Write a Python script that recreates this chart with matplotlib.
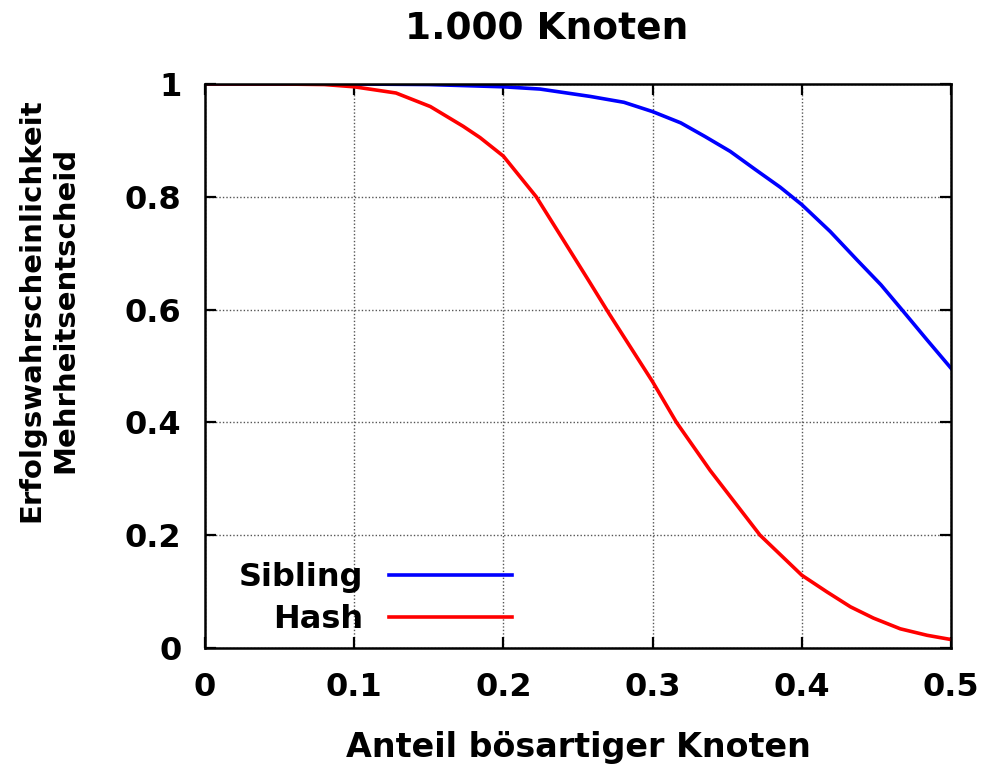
import matplotlib
matplotlib.use('Agg')
import matplotlib.pyplot as plt
from matplotlib.ticker import FixedLocator, FuncFormatter

plt.rcParams['font.family'] = ['DejaVu Sans']
plt.rcParams['font.weight'] = 'bold'

# points
sibling_x = [0.0, 0.05, 0.1, 0.15, 0.2, 0.2245, 0.258, 0.2808, 0.3, 0.3189,
             0.335, 0.352, 0.369, 0.3855, 0.4, 0.419, 0.437, 0.453, 0.467,
             0.484, 0.5]
sibling_y = [1.0, 1.0, 1.0, 0.999, 0.995, 0.991, 0.978, 0.9675, 0.951, 0.931,
             0.907, 0.8805, 0.848, 0.817, 0.786, 0.7385, 0.688, 0.644, 0.6,
             0.546, 0.496]
hash_x = [0.0, 0.05, 0.08, 0.1, 0.128, 0.151, 0.173, 0.1843, 0.2, 0.222,
          0.24, 0.257, 0.271, 0.3, 0.316, 0.3385, 0.372, 0.4, 0.4168, 0.4326,
          0.448, 0.466, 0.484, 0.5]
hash_y = [1.0, 1.0, 0.999, 0.995, 0.984, 0.96, 0.925, 0.905, 0.872, 0.8,
          0.724, 0.652, 0.592, 0.472, 0.4, 0.315, 0.2, 0.129, 0.0995, 0.073,
          0.053, 0.034, 0.0225, 0.015]

x_ticks = [0, 0.1, 0.2, 0.3, 0.4, 0.5]
y_ticks = [0, 0.2, 0.4, 0.6, 0.8, 1.0]

fig = plt.figure(figsize=(9.89, 7.74), dpi=100)
ax = fig.add_axes([0.2073, 0.1628, 0.7543, 0.7287])

ax.plot(sibling_x, sibling_y, color='#0000ff', lw=2.6, label='Sibling',
        solid_joinstyle='round')
ax.plot(hash_x, hash_y, color='#ff0000', lw=2.6, label='Hash',
        solid_joinstyle='round')

ax.set_xlim(0, 0.5)
ax.set_ylim(0, 1)
ax.xaxis.set_major_locator(FixedLocator(x_ticks))
ax.yaxis.set_major_locator(FixedLocator(y_ticks))
fmt = FuncFormatter(lambda v, p: '%g' % v)
ax.xaxis.set_major_formatter(fmt)
ax.yaxis.set_major_formatter(fmt)

ax.tick_params(direction='in', length=8, width=1.6, top=True, right=True,
               labelsize=23)
ax.tick_params(axis='x', pad=17)
ax.tick_params(axis='y', pad=17)
for lab in ax.get_xticklabels() + ax.get_yticklabels():
    lab.set_fontweight('bold')

ax.grid(True, linestyle=(0, (1, 1.5)), color='#555555', lw=1.0)
for s in ax.spines.values():
    s.set_linewidth(1.8)

fig.text(0.553, 1 - 30 / 774, '1.000 Knoten', fontsize=27,
         fontweight='bold', ha='center', va='center')
fig.text(0.5845, 0.034, 'Anteil bösartiger Knoten', fontsize=24,
         fontweight='bold', ha='center', va='center')
fig.text(0.049, 0.5995, 'Erfolgswahrscheinlichkeit\nMehrheitsentscheid',
         fontsize=21, fontweight='bold', rotation=90, ha='center',
         va='center', multialignment='center', linespacing=1.3)

ax.legend(loc='lower right', bbox_to_anchor=(0.4115, 0.023), frameon=False,
          markerfirst=False, handlelength=3.85, handletextpad=0.8,
          labelspacing=0.35, borderpad=0, borderaxespad=0,
          prop={'weight': 'bold', 'size': 23})

fig.savefig('out.png', dpi=100)
